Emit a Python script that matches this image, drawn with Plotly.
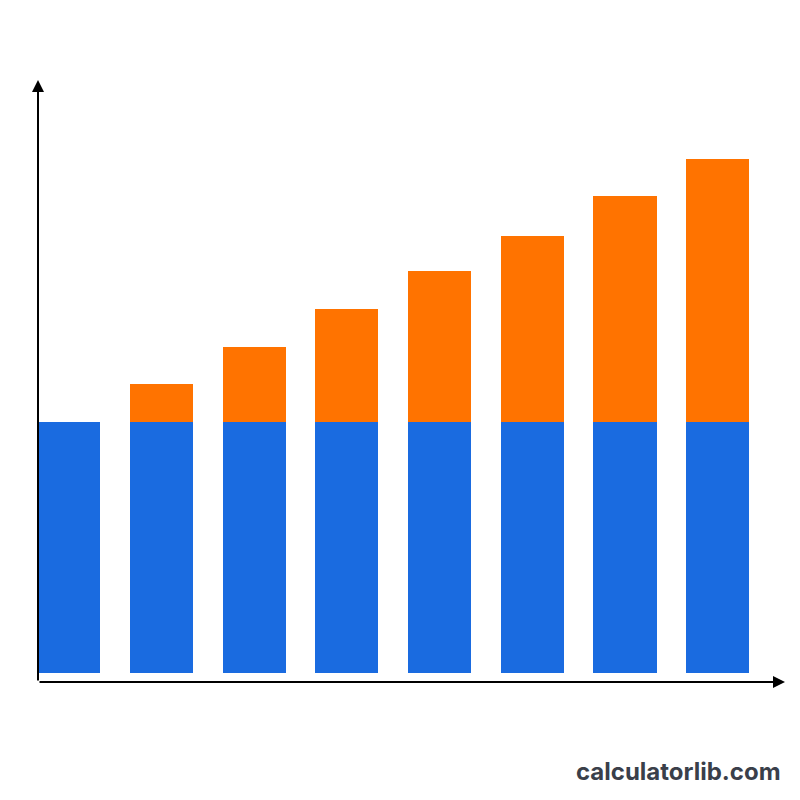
import plotly.graph_objects as go

categories = [0, 1, 2, 3, 4, 5, 6, 7]
base_values = [100, 100, 100, 100, 100, 100, 100, 100]
extra_values = [0, 15, 30, 45, 60, 74, 90, 105]

fig = go.Figure()
fig.add_trace(go.Bar(x=categories, y=base_values, marker_color="#1a6be0",
                     marker_line_width=0, width=0.68))
fig.add_trace(go.Bar(x=categories, y=extra_values, marker_color="#ff7300",
                     marker_line_width=0, width=0.68))

fig.update_layout(
    barmode="stack",
    width=800, height=800,
    margin=dict(l=30, r=23, t=72, b=126),
    paper_bgcolor="white", plot_bgcolor="white",
    showlegend=False,
    xaxis=dict(range=[-0.332, 7.726], visible=False),
    yaxis=dict(range=[-3.6, 236.3], visible=False),
    annotations=[
        # y axis arrow
        dict(xref="paper", yref="paper", x=0, y=1, ax=0, ay=602,
             showarrow=True, arrowhead=2, arrowsize=1.2, arrowwidth=2, arrowcolor="black", text=""),
        # x axis arrow
        dict(xref="paper", yref="paper", x=1, y=0, ax=-747, ay=0,
             showarrow=True, arrowhead=2, arrowsize=1.2, arrowwidth=2, arrowcolor="black", text=""),
        dict(xref="paper", yref="paper", x=0.997, y=-0.148, xanchor="right", yanchor="middle",
             text="<b>calculatorlib.com</b>", showarrow=False,
             font=dict(family="Inter, Roboto, sans-serif", size=24, color="#3a3f4a")),
    ],
)

fig.write_html("out.html")
